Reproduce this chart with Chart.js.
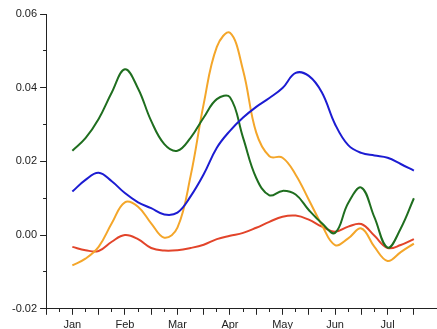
<!DOCTYPE html>
<html>
<head>
<meta charset="utf-8">
<script src="https://cdn.jsdelivr.net/npm/chart.js@4.4.1/dist/chart.umd.min.js"></script>
<style>
  html, body { margin: 0; padding: 0; background: #ffffff; }
  canvas { display: block; }
</style>
</head>
<body>
<canvas id="c" width="437" height="329"></canvas>
<script>
// Month tick labels (x = 0 is Jan)
const months = ['Jan', 'Feb', 'Mar', 'Apr', 'May', 'Jun', 'Jul'];
// Weekly (quarter-month) sample positions, in months (0 = Jan)
const periods = [0, 0.25, 0.5, 0.75, 1, 1.25, 1.5, 1.75, 2, 2.25, 2.5, 2.75, 3, 3.25,
                 3.5, 3.75, 4, 4.25, 4.5, 4.75, 5, 5.25, 5.5, 5.75, 6, 6.25, 6.5];

const blueSeries   = [0.0118, 0.0150, 0.0169, 0.0146, 0.0114, 0.0089, 0.0073, 0.0056, 0.0061, 0.0105, 0.0165, 0.0237, 0.0283, 0.0319,
                      0.0348, 0.0372, 0.0399, 0.0440, 0.0432, 0.0387, 0.0301, 0.0244, 0.0223, 0.0216, 0.0210, 0.0193, 0.0175];
const greenSeries  = [0.0229, 0.0263, 0.0315, 0.0387, 0.0450, 0.0398, 0.0310, 0.0247, 0.0229, 0.0264, 0.0319, 0.0369, 0.0374, 0.0264,
                      0.0155, 0.0108, 0.0120, 0.0110, 0.0068, 0.0032, 0.0006, 0.0087, 0.0129, 0.0048, -0.0034, 0.0018, 0.0100];
const orangeSeries = [-0.0082, -0.0064, -0.0032, 0.0032, 0.0089, 0.0077, 0.0032, -0.0007, 0.0020, 0.0160, 0.0356, 0.0511, 0.0549, 0.0447,
                      0.0278, 0.0214, 0.0210, 0.0164, 0.0096, 0.0027, -0.0027, -0.0009, 0.0018, -0.0032, -0.0070, -0.0046, -0.0023];
const redSeries    = [-0.0032, -0.0041, -0.0043, -0.0018, 0.0000, -0.0011, -0.0035, -0.0042, -0.0041, -0.0035, -0.0026, -0.0011, -0.0002, 0.0006,
                      0.0020, 0.0036, 0.0050, 0.0053, 0.0042, 0.0023, 0.0009, 0.0023, 0.0030, -0.0002, -0.0035, -0.0027, -0.0011];

function toPoints(values) {
  return values.map((v, i) => ({ x: periods[i], y: v }));
}

const axisColor = '#222222';
const fontSpec = { family: "'Liberation Sans', Arial, sans-serif", size: 11 };

function isMultiple(v, step) {
  const q = v / step;
  return Math.abs(q - Math.round(q)) < 1e-6;
}

new Chart(document.getElementById('c'), {
  type: 'line',
  data: {
    datasets: [
      { data: toPoints(blueSeries),   borderColor: '#1c1cd2' },
      { data: toPoints(greenSeries),  borderColor: '#1f6e1f' },
      { data: toPoints(orangeSeries), borderColor: '#f4a62a' },
      { data: toPoints(redSeries),    borderColor: '#e2442a' }
    ].map(d => Object.assign(d, {
      borderWidth: 2,
      pointRadius: 0,
      tension: 0.4,
      fill: false
    }))
  },
  options: {
    responsive: false,
    animation: false,
    layout: { padding: { left: 9, top: 14, right: 0, bottom: -7 } },
    plugins: { legend: { display: false }, tooltip: { enabled: false } },
    scales: {
      x: {
        type: 'linear',
        min: -0.5,
        max: 6.94,
        afterBuildTicks: (scale) => {
          scale.ticks = scale.ticks.filter(t => isMultiple(t.value, 0.25));
        },
        ticks: {
          stepSize: 0.25,
          autoSkip: false,
          maxRotation: 0,
          padding: 4,
          color: axisColor,
          font: fontSpec,
          callback: (v) => (isMultiple(v, 1) && v >= 0 && v < months.length) ? months[Math.round(v)] : ''
        },
        grid: {
          drawOnChartArea: false,
          drawTicks: true,
          tickLength: 6,
          tickWidth: 1,
          tickColor: axisColor,
          tickBorderDash: (ctx) => (ctx.tick && isMultiple(ctx.tick.value, 0.5)) ? [] : [3, 10]
        },
        border: { display: true, color: axisColor, width: 1 }
      },
      y: {
        min: -0.02,
        max: 0.06,
        ticks: {
          stepSize: 0.01,
          autoSkip: false,
          padding: 3,
          color: axisColor,
          font: fontSpec,
          callback: (v) => isMultiple(v, 0.02) ? v.toFixed(2) : ''
        },
        grid: {
          drawOnChartArea: false,
          drawTicks: true,
          tickLength: 6,
          tickWidth: 1,
          tickColor: axisColor,
          tickBorderDash: (ctx) => (ctx.tick && isMultiple(ctx.tick.value, 0.02)) ? [] : [0, 3, 3, 10]
        },
        border: { display: true, color: axisColor, width: 1 }
      }
    }
  }
});
</script>
</body>
</html>
